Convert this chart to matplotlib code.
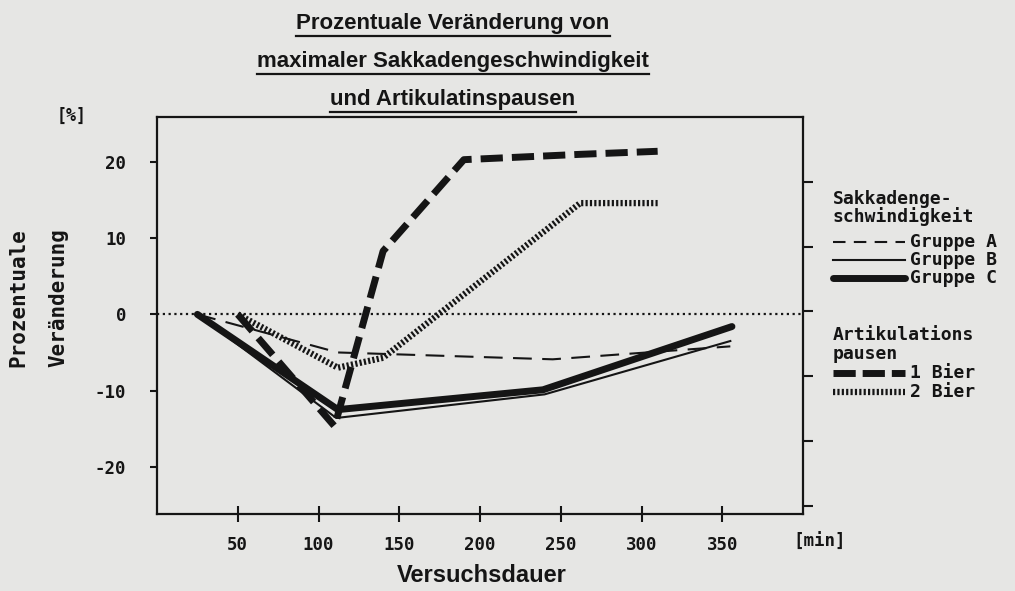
import matplotlib
matplotlib.use("Agg")
import matplotlib.pyplot as plt
from matplotlib.lines import Line2D

# ---------------- data ----------------
x_ticks = [50, 100, 150, 200, 250, 300, 350]
x_tick_labels = ["50", "100", "150", "200", "250", "300", "350"]
y_ticks = [-20, -10, 0, 10, 20]
y_tick_labels = ["-20", "-10", "0", "10", "20"]

time_A = [25, 112, 245, 355]
gruppe_A = [0, -5.0, -5.9, -4.2]
time_B = [25, 111, 240, 355]
gruppe_B = [0, -13.6, -10.5, -3.5]
time_C = [25, 112, 239, 356]
gruppe_C = [0, -12.5, -9.9, -1.6]
time_1 = [50, 110, 140, 190, 262, 310]
bier_1 = [0, -14.7, 8.3, 20.3, 21.0, 21.4]
time_2 = [50, 112, 140, 262, 310]
bier_2 = [0, -7.0, -5.7, 14.6, 14.6]

title_lines = ["Prozentuale Veränderung von",
               "maximaler Sakkadengeschwindigkeit",
               "und Artikulatinspausen"]

INK = "#151515"
PAPER = "#e6e6e4"
MONO = ["DejaVu Sans Mono"]
NARROW = ["Liberation Sans Narrow", "DejaVu Sans Condensed", "Liberation Sans", "DejaVu Sans"]

W, H = 1015, 591
fig = plt.figure(figsize=(W / 100, H / 100), dpi=100, facecolor=PAPER)

def fx(px):
    return px / W

def fy(py):
    return 1 - py / H

ax = fig.add_axes([fx(157), fy(514), fx(803) - fx(157), fy(117) - fy(514)])
ax.set_facecolor(PAPER)
ax.set_xlim(0, 400)
ax.set_ylim(-26.2, 25.9)
for s in ax.spines.values():
    s.set_color(INK)
    s.set_linewidth(1.6)

ax.set_xticks(x_ticks)
ax.set_xticklabels(x_tick_labels, fontfamily=MONO, fontweight="bold", fontsize=12.5, color=INK)
ax.set_yticks(y_ticks)
ax.set_yticklabels(y_tick_labels, fontfamily=MONO, fontweight="bold", fontsize=12.5, color=INK)
ax.tick_params(axis="x", direction="inout", length=11, width=1.5, color=INK, pad=10)
ax.tick_params(axis="y", direction="out", length=5, width=1.5, color=INK, pad=17)

ax2 = ax.twinx()
ax2.set_ylim(-3.13, 3.0)
ax2.set_yticks([-3, -2, -1, 0, 1, 2])
ax2.set_yticklabels([])
ax2.tick_params(axis="y", direction="out", length=7, width=1.5, color=INK)
for s in ax2.spines.values():
    s.set_visible(False)

# zero reference line
ax.axhline(0, color=INK, lw=1.6, linestyle=(0, (1, 1.6)), zorder=1)

# Sakkadengeschwindigkeit
ax.plot(time_A, gruppe_A, color=INK, lw=1.5, linestyle=(0, (9, 5)), zorder=3)
ax.plot(time_B, gruppe_B, color=INK, lw=1.5, linestyle="-", zorder=3)
ax.plot(time_C, gruppe_C, color=INK, lw=5, linestyle="-", solid_capstyle="round", zorder=3)
# Artikulationspausen
ax.plot(time_1, bier_1, color=INK, lw=5, linestyle=(0, (3.2, 1.3)), dash_capstyle="butt", zorder=4)
ax.plot(time_2, bier_2, color=INK, lw=4.5, linestyle=(0, (0.35, 0.35)), dash_capstyle="butt", zorder=4)

# axis labels
fig.text(fx(72), fy(116), "[%]", fontfamily=MONO, fontweight="bold", fontsize=12, color=INK,
         ha="center", va="center")
fig.text(fx(18), fy(298), "Prozentuale", rotation=90, fontfamily=MONO, fontweight="bold",
         fontsize=15, color=INK, ha="center", va="center")
fig.text(fx(58), fy(298), "Veränderung", rotation=90, fontfamily=MONO, fontweight="bold",
         fontsize=15, color=INK, ha="center", va="center")
fig.text(fx(793), fy(542), "[min]", fontfamily=MONO, fontweight="bold", fontsize=12.5, color=INK,
         ha="left", va="center")
fig.text(fx(482), fy(575), "Versuchsdauer", fontfamily=NARROW, fontweight="bold", fontsize=17,
         color=INK, ha="center", va="center")

# title with underlines
title_objs = []
for i, line in enumerate(title_lines):
    t = fig.text(fx(453), fy(24 + 38 * i), line, fontfamily=NARROW, fontweight="bold",
                 fontsize=16, color=INK, ha="center", va="center")
    title_objs.append(t)

# legend
leg_x0, leg_x1, txt_x = 833, 905, 910
lg = dict(fontfamily=MONO, fontweight="bold", fontsize=13, color=INK)
fig.text(fx(833), fy(190), "Sakkadenge-\nschwindigkeit", ha="left", va="top",
         linespacing=0.95, **lg)
fig.text(fx(txt_x), fy(242), "Gruppe A", ha="left", va="center", **lg)
fig.text(fx(txt_x), fy(260), "Gruppe B", ha="left", va="center", **lg)
fig.text(fx(txt_x), fy(278), "Gruppe C", ha="left", va="center", **lg)
fig.text(fx(833), fy(326), "Artikulations\npausen", ha="left", va="top",
         linespacing=1.05, **lg)
fig.text(fx(txt_x), fy(373), "1 Bier", ha="left", va="center", **lg)
fig.text(fx(txt_x), fy(392), "2 Bier", ha="left", va="center", **lg)

def leg_line(py, **kw):
    fig.add_artist(Line2D([fx(leg_x0), fx(leg_x1)], [fy(py), fy(py)], color=INK, **kw))

leg_line(242, lw=1.5, linestyle=(0, (6, 4)))
leg_line(260, lw=1.5, linestyle="-")
leg_line(278, lw=5, linestyle="-", solid_capstyle="round")
leg_line(373, lw=5, linestyle=(0, (3.2, 1.0)), dash_capstyle="butt")
leg_line(392, lw=4.5, linestyle=(0, (0.35, 0.35)), dash_capstyle="butt")

# underline titles
fig.canvas.draw()
r = fig.canvas.get_renderer()
for t in title_objs:
    bb = t.get_window_extent(r)
    yline = bb.y0 - 1
    fig.add_artist(Line2D([bb.x0 / W, bb.x1 / W], [yline / H, yline / H], color=INK, lw=1.6))

fig.savefig("out.png", dpi=100, facecolor=PAPER)
